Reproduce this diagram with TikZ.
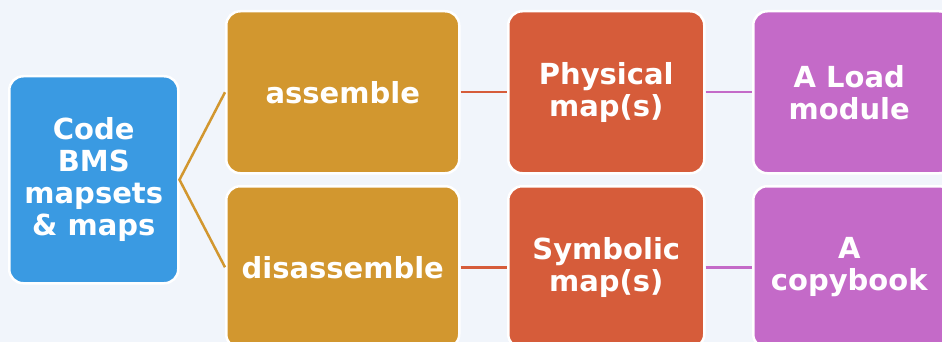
\documentclass[tikz,border=0pt]{standalone}
\usepackage{fontspec}
\setmainfont{DejaVu Sans}
\definecolor{bg}{RGB}{241,245,251}
\definecolor{cblue}{RGB}{58,154,226}
\definecolor{cgold}{RGB}{210,151,47}
\definecolor{cred}{RGB}{214,92,58}
\definecolor{cpurple}{RGB}{196,106,200}
\begin{document}
\begin{tikzpicture}[x=1pt,y=-1pt,
  box/.style={draw=white, line width=2.5pt, rounded corners=14pt, text=white,
    font=\bfseries\fontsize{29}{32}\selectfont, align=center, inner sep=0pt,
    anchor=north west, rectangle},
  link/.style={line width=2.5pt}]
\useasboundingbox (0,0) rectangle (942,342);
\clip (0,0) rectangle (942,342);
\fill[bg] (0,0) rectangle (942,342);
\node[box, fill=cblue, minimum width=169pt, minimum height=207pt] (code) at (8,75) {Code\\BMS\\mapsets\\\& maps};
\node[box, fill=cgold, minimum width=233pt, minimum height=162pt] (asm) at (225,10) {assemble};
\node[box, fill=cgold, minimum width=233pt, minimum height=162pt] (dis) at (225,185) {disassemble};
\node[box, fill=cred, minimum width=196pt, minimum height=162pt] (phys) at (507,10) {Physical\\map(s)};
\node[box, fill=cred, minimum width=196pt, minimum height=162pt] (symb) at (507,185) {Symbolic\\map(s)};
\node[box, fill=cpurple, minimum width=200pt, minimum height=162pt] (load) at (752,10) {\hspace*{-8pt}A Load\\\hspace*{-8pt}module};
\node[box, fill=cpurple, minimum width=200pt, minimum height=162pt] (copy) at (752,185) {\hspace*{-8pt}A\\\hspace*{-8pt}copybook};
\draw[link, cgold] (asm.west) -- (code.east) -- (dis.west);
\draw[link, cred] (asm.east) -- (phys.west);
\draw[link, cred] (dis.east) -- (symb.west);
\draw[link, cpurple] (phys.east) -- (load.west);
\draw[link, cpurple] (symb.east) -- (copy.west);
\end{tikzpicture}
\end{document}
